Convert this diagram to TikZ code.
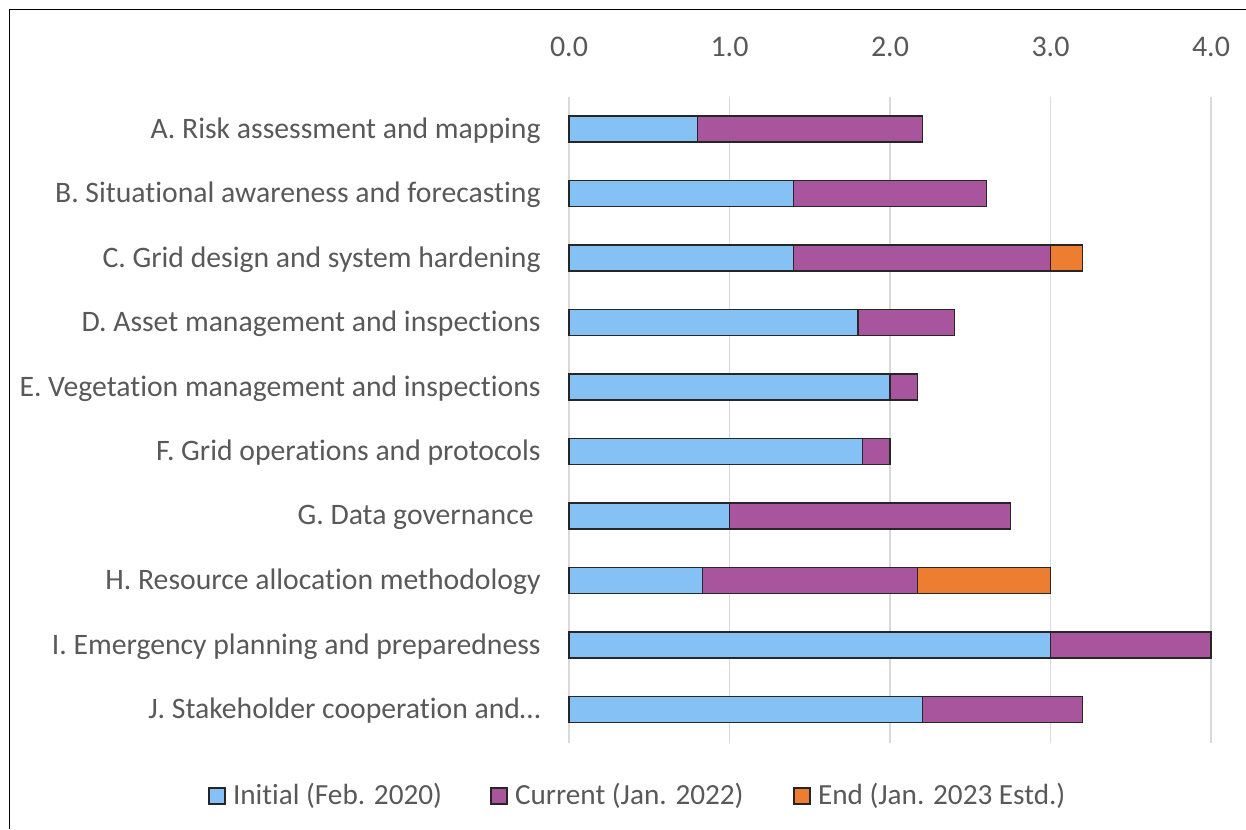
\documentclass[tikz,border=0pt]{standalone}
\usepackage{fontspec}
\setmainfont[Ligatures=NoCommon]{Carlito}
\usepackage{xcolor}
\usepackage{tikz}
\usetikzlibrary{positioning}
\definecolor{initblue}{HTML}{85C1F5}
\definecolor{currpurple}{HTML}{A8559E}
\definecolor{endorange}{HTML}{ED7D31}
\definecolor{gridgray}{HTML}{D9D9D9}
\definecolor{labgray}{HTML}{595959}

\begin{document}
\begin{tikzpicture}[
    x=0.5pt, y=-0.5pt,
    bar/.style={draw=black!85, line width=0.6pt},
    gridline/.style={draw=gridgray, line width=0.7pt},
    catlabel/.style={anchor=east, inner sep=0pt, text=labgray, font=\fontsize{14.85}{17}\selectfont},
    ticklabel/.style={inner sep=0pt, text=labgray, font=\fontsize{15}{18}\selectfont},
    legbox/.style={draw=black!85, line width=0.6pt, minimum size=8pt, inner sep=0pt},
    legtext/.style={inner sep=0pt, text=labgray, font=\fontsize{14.6}{17}\selectfont}
]
    \useasboundingbox (0,0) rectangle (1246,829);
    \fill[white] (0,0) rectangle (1246,829);
    % frame (only top and left edges are in view)
    \draw[black, line width=0.7pt] (9.5,829) -- (9.5,9.5) -- (1246,9.5);

    % grid and tick labels
    \foreach \v in {0,...,4} {
        \draw[gridline] (569+\v*160.5,97) -- (569+\v*160.5,743);
        \node[ticklabel] (tick\v) at (569+\v*160.5,47) {\v.0};
    }

    % bars: initial and current
    \foreach \lab/\a/\b [count=\i] in {
        A. Risk assessment and mapping/0.8/2.2,
        B. Situational awareness and forecasting/1.4/2.6,
        C. Grid design and system hardening/1.4/3.0,
        D. Asset management and inspections/1.8/2.4,
        E. Vegetation management and inspections/2.0/2.17,
        F. Grid operations and protocols/1.83/2.0,
        G. Data governance\kern3.5pt/1.0/2.75,
        H. Resource allocation methodology/0.83/2.17,
        I. Emergency planning and preparedness/3.0/4.0,
        J. Stakeholder cooperation and…/2.2/3.2} {
        \pgfmathsetmacro{\yc}{129+(\i-1)*64.5}
        \node[catlabel] (lab\i) at (541,\yc+1.5) {\lab};
        \filldraw[bar, fill=initblue] (569,\yc-13) rectangle (569+\a*160.5,\yc+13);
        \filldraw[bar, fill=currpurple] (569+\a*160.5,\yc-13) rectangle (569+\b*160.5,\yc+13);
    }

    % bars: end estimate
    \filldraw[bar, fill=endorange] (569+3.0*160.5,245) rectangle (569+3.2*160.5,271);
    \filldraw[bar, fill=endorange] (569+2.17*160.5,567.5) rectangle (569+3.0*160.5,593.5);

    % legend
    \node[legbox, fill=initblue] (leginit) at (217,796) {};
    \node[legtext, right=3.5pt of leginit] (leginittext) {Initial (Feb. 2020)};
    \node[legbox, fill=currpurple] (legcurr) at (499,796) {};
    \node[legtext, right=3.5pt of legcurr] (legcurrtext) {Current (Jan. 2022)};
    \node[legbox, fill=endorange] (legend) at (802,796) {};
    \node[legtext, right=3.5pt of legend] (legendtext) {End (Jan. 2023 Estd.)};
\end{tikzpicture}
\end{document}
